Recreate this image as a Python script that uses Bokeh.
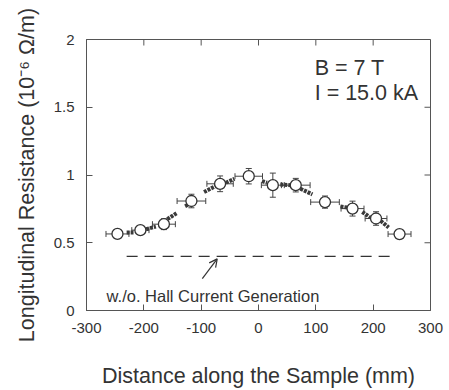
import math
from bokeh.plotting import figure
from bokeh.models import (ColumnDataSource, Whisker, TeeHead, Label,
                          Arrow, OpenHead, FixedTicker, Range1d)
from bokeh.embed import file_html
from bokeh.resources import INLINE

# Circle data points (distance mm, resistance 1e-6 Ohm/m)
pos = [-246, -206, -165, -117, -67, -17, 25, 65, 116, 164, 205, 246]
res = [0.565, 0.593, 0.637, 0.808, 0.935, 0.991, 0.925, 0.925, 0.800, 0.752, 0.679, 0.564]
xerr = [20, 15, 20, 25, 23, 24, 20, 25, 25, 20, 19, 20]
yerr = [0.03, 0.03, 0.04, 0.05, 0.058, 0.057, 0.089, 0.05, 0.045, 0.055, 0.05, 0.03]

# Continuous measurement segments (start/end)
seg_x0 = [-230, -196, -159, -128, -95, -57, 6, 38, 73, 143, 181, 213]
seg_y0 = [0.576, 0.600, 0.674, 0.770, 0.874, 0.943, 0.955, 0.930, 0.899, 0.767, 0.727, 0.662]
seg_x1 = [-218, -179, -143, -121, -75, -42, 15, 56, 94, 155, 195, 227]
seg_y1 = [0.576, 0.620, 0.718, 0.785, 0.918, 0.972, 0.943, 0.925, 0.857, 0.760, 0.686, 0.613]

# Reference level without Hall current generation
ref_x = [-230, 229]
ref_y = [0.40, 0.40]

x_ticks = [-300, -200, -100, 0, 100, 200, 300]
y_ticks = [0, 0.5, 1, 1.5, 2]
x_lo, x_hi = -300, 300
y_lo, y_hi = 0, 2

FONT = "Liberation Sans"
TXT = "#333333"
AX = "#555555"

p = figure(width=449, height=390, output_backend="svg", toolbar_location=None,
           x_range=Range1d(x_lo, x_hi), y_range=Range1d(y_lo, y_hi),
           min_border_left=86, min_border_right=19, min_border_top=39, min_border_bottom=78,
           x_axis_label="Distance along the Sample (mm)",
           y_axis_label="Longitudinal Resistance (10\u207b\u2076 \u03a9/m)")
p.grid.visible = False
p.outline_line_color = AX
p.background_fill_color = "white"
p.border_fill_color = "white"

for ax in p.xaxis + p.yaxis:
    ax.major_tick_in = 6
    ax.major_tick_out = 0
    ax.minor_tick_line_color = None
    ax.axis_line_color = AX
    ax.major_tick_line_color = AX
    ax.major_label_text_font = FONT
    ax.major_label_text_font_size = "15px"
    ax.major_label_text_color = TXT
    ax.axis_label_text_font = FONT
    ax.axis_label_text_font_size = "21.5px"
    ax.axis_label_text_font_style = "normal"
    ax.axis_label_text_color = TXT
    ax.major_label_standoff = 12

p.xaxis.ticker = FixedTicker(ticks=x_ticks)
p.yaxis.ticker = FixedTicker(ticks=y_ticks)
p.xaxis.major_label_overrides = {v: str(v) for v in x_ticks}
p.yaxis.major_label_overrides = {0: "0", 0.5: "0.5", 1: "1", 1.5: "1.5", 2: "2"}
p.xaxis.axis_label_standoff = 28
p.yaxis.axis_label_standoff = 12

# inward ticks on the top and right frame edges
p.ray(x=x_ticks, y=[y_hi] * len(x_ticks), length=6, length_units="screen",
      angle=-math.pi / 2, line_color=AX, line_width=1)
p.ray(x=[x_hi] * len(y_ticks), y=y_ticks, length=6, length_units="screen",
      angle=math.pi, line_color=AX, line_width=1)

# dashed reference line
p.line(ref_x, ref_y, line_color="#333333", line_width=1.2, line_dash="11 7")

# continuous thick segments
segsrc = ColumnDataSource(dict(x0=seg_x0, y0=seg_y0, x1=seg_x1, y1=seg_y1))
p.segment("x0", "y0", "x1", "y1", source=segsrc, line_color="#3a3a3a",
          line_width=4, line_dash="3 1")

src = ColumnDataSource(dict(
    x=pos, y=res,
    xl=[a - b for a, b in zip(pos, xerr)], xu=[a + b for a, b in zip(pos, xerr)],
    yl=[a - b for a, b in zip(res, yerr)], yu=[a + b for a, b in zip(res, yerr)]))

wx = Whisker(source=src, base="y", lower="xl", upper="xu", dimension="width",
             line_color="#444444", line_width=1,
             upper_head=TeeHead(size=6, line_color="#444444", line_width=1),
             lower_head=TeeHead(size=6, line_color="#444444", line_width=1))
wy = Whisker(source=src, base="x", lower="yl", upper="yu", dimension="height",
             line_color="#444444", line_width=1,
             upper_head=TeeHead(size=6, line_color="#444444", line_width=1),
             lower_head=TeeHead(size=6, line_color="#444444", line_width=1))
p.add_layout(wx)
p.add_layout(wy)

p.scatter("x", "y", source=src, size=11, marker="circle", fill_color="white",
          line_color="#333333", line_width=1.3)

p.add_layout(Label(x=98, y=1.79, text="B = 7 T", text_font=FONT, text_font_size="21.5px",
                   text_color=TXT, text_baseline="middle"))
p.add_layout(Label(x=98, y=1.605, text="I = 15.0 kA", text_font=FONT, text_font_size="21.5px",
                   text_color=TXT, text_baseline="middle"))
p.add_layout(Label(x=-265, y=0.11, text="w./o. Hall Current Generation", text_font=FONT,
                   text_font_size="16.5px", text_color=TXT, text_baseline="alphabetic"))
p.add_layout(Arrow(end=OpenHead(size=8, line_color="#333333", line_width=1.2),
                   x_start=-98, y_start=0.235, x_end=-72, y_end=0.381,
                   line_color="#333333", line_width=1.2))

open("out.html", "w").write(file_html(p, INLINE))
